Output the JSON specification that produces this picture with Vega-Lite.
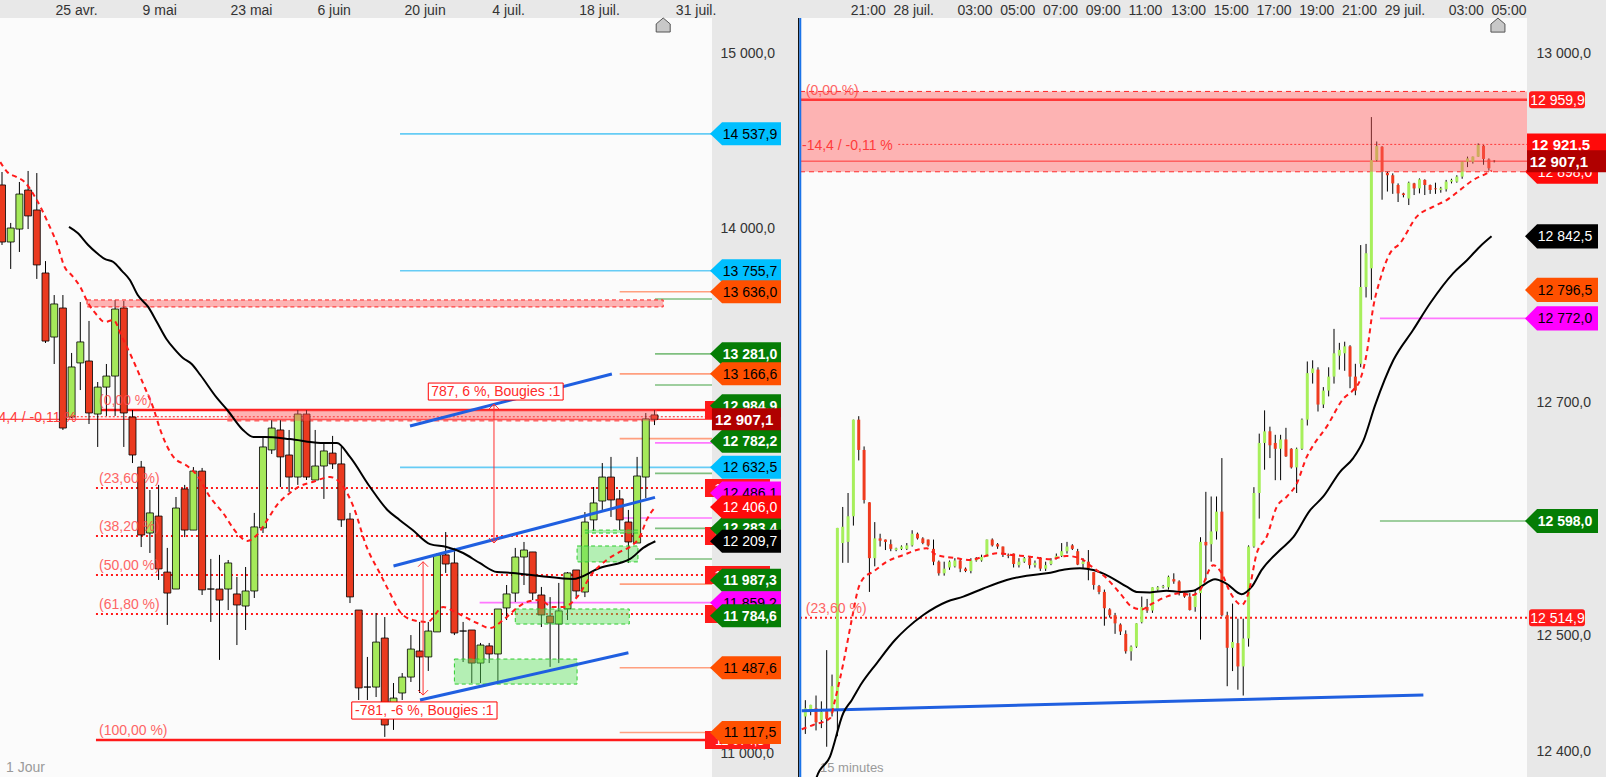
{
  "$schema": "https://vega.github.io/schema/vega-lite/v6.json",
  "background": "#e8e8e8",
  "padding": 0,
  "bounds": "flush",
  "spacing": 88,
  "config": {"view": {"fill": "#fbfbfb", "stroke": null}, "font": "Liberation Sans"},
  "datasets": {
    "dc": [
      {"i":0,"o":14246,"h":14320,"l":13903,"c":13920},{"i":1,"o":13920,"h":14029,"l":13766,"c":14000},
      {"i":2,"o":13994,"h":14263,"l":13863,"c":14194},{"i":3,"o":14217,"h":14326,"l":13994,"c":14069},
      {"i":4,"o":14103,"h":14314,"l":13709,"c":13789},{"i":5,"o":13743,"h":13811,"l":13343,"c":13354},
      {"i":6,"o":13377,"h":13617,"l":13223,"c":13566},{"i":7,"o":13543,"h":13617,"l":12846,"c":12857},
      {"i":8,"o":12920,"h":13286,"l":12914,"c":13206},{"i":9,"o":13229,"h":13577,"l":13074,"c":13349},
      {"i":10,"o":13240,"h":13469,"l":12880,"c":12943},{"i":11,"o":12937,"h":13120,"l":12749,"c":13091},
      {"i":12,"o":13091,"h":13223,"l":12926,"c":13154},{"i":13,"o":13154,"h":13589,"l":12926,"c":13537},
      {"i":14,"o":13543,"h":13583,"l":12749,"c":12943},{"i":15,"o":12920,"h":12960,"l":12657,"c":12703},
      {"i":16,"o":12634,"h":12669,"l":12177,"c":12246},{"i":17,"o":12257,"h":12503,"l":12143,"c":12372},
      {"i":18,"o":12354,"h":12532,"l":11989,"c":12052},{"i":19,"o":12034,"h":12172,"l":11732,"c":11914},
      {"i":20,"o":11937,"h":12463,"l":11937,"c":12400},{"i":21,"o":12509,"h":12532,"l":12234,"c":12274},
      {"i":22,"o":12274,"h":12634,"l":12274,"c":12611},{"i":23,"o":12611,"h":12629,"l":11903,"c":11932},
      {"i":24,"o":11937,"h":12109,"l":11749,"c":11937},{"i":25,"o":11937,"h":12132,"l":11532,"c":11874},
      {"i":26,"o":11937,"h":12103,"l":11817,"c":12086},{"i":27,"o":11909,"h":12006,"l":11617,"c":11846},
      {"i":28,"o":11840,"h":12063,"l":11703,"c":11926},{"i":29,"o":11926,"h":12372,"l":11886,"c":12292},
      {"i":30,"o":12286,"h":12806,"l":12257,"c":12749},{"i":31,"o":12732,"h":12903,"l":12709,"c":12857},
      {"i":32,"o":12846,"h":12903,"l":12520,"c":12692},{"i":33,"o":12703,"h":12846,"l":12492,"c":12577},
      {"i":34,"o":12577,"h":12960,"l":12532,"c":12937},{"i":35,"o":12937,"h":12960,"l":12560,"c":12577},
      {"i":36,"o":12560,"h":12846,"l":12560,"c":12640},{"i":37,"o":12640,"h":12777,"l":12452,"c":12726},
      {"i":38,"o":12714,"h":12812,"l":12623,"c":12652},{"i":39,"o":12652,"h":12749,"l":12292,"c":12332},
      {"i":40,"o":12337,"h":12372,"l":11857,"c":11892},{"i":41,"o":11817,"h":11817,"l":11303,"c":11372},
      {"i":42,"o":11377,"h":11549,"l":11303,"c":11377},{"i":43,"o":11377,"h":11800,"l":11320,"c":11634},
      {"i":44,"o":11657,"h":11777,"l":11092,"c":11160},{"i":45,"o":11229,"h":11400,"l":11132,"c":11314},
      {"i":46,"o":11343,"h":11457,"l":11303,"c":11434},{"i":47,"o":11434,"h":11674,"l":11406,"c":11594},
      {"i":48,"o":11583,"h":11749,"l":11343,"c":11549},{"i":49,"o":11549,"h":11749,"l":11469,"c":11697},
      {"i":50,"o":11692,"h":12143,"l":11692,"c":12132},{"i":51,"o":12132,"h":12263,"l":12029,"c":12080},
      {"i":52,"o":12086,"h":12172,"l":11674,"c":11686},{"i":53,"o":11697,"h":11749,"l":11520,"c":11697},
      {"i":54,"o":11703,"h":11703,"l":11400,"c":11514},{"i":55,"o":11514,"h":11629,"l":11400,"c":11617},
      {"i":56,"o":11612,"h":11629,"l":11514,"c":11566},{"i":57,"o":11566,"h":11823,"l":11400,"c":11823},
      {"i":58,"o":11829,"h":11960,"l":11760,"c":11909},{"i":59,"o":11914,"h":12172,"l":11863,"c":12120},
      {"i":60,"o":12120,"h":12206,"l":11960,"c":12160},{"i":61,"o":12149,"h":12149,"l":11874,"c":11914},
      {"i":62,"o":11903,"h":11949,"l":11720,"c":11789},{"i":63,"o":11783,"h":11891,"l":11492,"c":11743},
      {"i":64,"o":11737,"h":11972,"l":11514,"c":11812},{"i":65,"o":11823,"h":12034,"l":11760,"c":12029},
      {"i":66,"o":12046,"h":12046,"l":11886,"c":11926},{"i":67,"o":11920,"h":12377,"l":11891,"c":12320},
      {"i":68,"o":12332,"h":12520,"l":12269,"c":12429},{"i":69,"o":12440,"h":12657,"l":12389,"c":12577},
      {"i":70,"o":12577,"h":12692,"l":12349,"c":12446},{"i":71,"o":12452,"h":12503,"l":12274,"c":12332},
      {"i":72,"o":12320,"h":12389,"l":12086,"c":12206},{"i":73,"o":12200,"h":12692,"l":12200,"c":12583},
      {"i":74,"o":12577,"h":12943,"l":12457,"c":12909},{"i":75,"o":12932,"h":12960,"l":12874,"c":12907}
    ],
    "dsma": [
      {"i":7.7,"v":14006},{"i":8.7,"v":13971},{"i":9.9,"v":13903},{"i":10.9,"v":13857},{"i":11.8,"v":13823},
      {"i":12.8,"v":13806},{"i":13.8,"v":13754},{"i":14.7,"v":13703},{"i":15.6,"v":13617},{"i":16.8,"v":13549},
      {"i":17.8,"v":13463},{"i":18.9,"v":13366},{"i":19.8,"v":13309},{"i":20.8,"v":13257},{"i":21.8,"v":13223},
      {"i":22.8,"v":13160},{"i":24.7,"v":13029},{"i":25.9,"v":12960},{"i":27.7,"v":12846},{"i":28.9,"v":12806},
      {"i":30.2,"v":12806},{"i":33.1,"v":12794},{"i":36.6,"v":12772},{"i":38.5,"v":12772},{"i":40.0,"v":12692},
      {"i":42.3,"v":12520},{"i":44.3,"v":12389},{"i":45.7,"v":12332},{"i":47.2,"v":12274},{"i":49.2,"v":12194},
      {"i":51.1,"v":12177},{"i":53.0,"v":12143},{"i":54.9,"v":12086},{"i":56.9,"v":12034},{"i":58.7,"v":12029},
      {"i":61.8,"v":12012},{"i":65.6,"v":11994},{"i":68.7,"v":12057},{"i":72.2,"v":12109},{"i":73.7,"v":12172},
      {"i":75.1,"v":12210}
    ],
    "dema": [
      {"i":-0.2,"v":14377},{"i":0.6,"v":14320},{"i":1.7,"v":14291},{"i":2.6,"v":14263},{"i":3.8,"v":14177},
      {"i":4.6,"v":14103},{"i":5.5,"v":14006},{"i":6.3,"v":13914},{"i":7.2,"v":13777},{"i":8.0,"v":13731},
      {"i":9.0,"v":13663},{"i":9.9,"v":13571},{"i":10.9,"v":13503},{"i":11.8,"v":13463},{"i":12.8,"v":13474},
      {"i":13.8,"v":13377},{"i":14.9,"v":13263},{"i":15.9,"v":13149},{"i":16.4,"v":13090},{"i":17.4,"v":12971},
      {"i":18.2,"v":12846},{"i":19.7,"v":12692},{"i":21.3,"v":12640},{"i":22.4,"v":12589},{"i":23.9,"v":12463},
      {"i":25.4,"v":12372},{"i":27.0,"v":12257},{"i":28.2,"v":12212},{"i":29.3,"v":12246},{"i":30.5,"v":12332},
      {"i":31.6,"v":12417},{"i":33.1,"v":12486},{"i":34.3,"v":12526},{"i":35.7,"v":12549},{"i":37.7,"v":12577},
      {"i":38.9,"v":12543},{"i":40.4,"v":12407},{"i":41.9,"v":12179},{"i":43.4,"v":12030},{"i":44.6,"v":11913},
      {"i":45.7,"v":11810},{"i":47.2,"v":11760},{"i":48.9,"v":11749},{"i":50.7,"v":11834},{"i":52.3,"v":11800},
      {"i":54.6,"v":11743},{"i":56.1,"v":11714},{"i":57.6,"v":11760},{"i":59.2,"v":11829},{"i":60.3,"v":11863},
      {"i":61.8,"v":11874},{"i":63.3,"v":11834},{"i":64.5,"v":11834},{"i":66.1,"v":11891},{"i":67.9,"v":12029},
      {"i":69.5,"v":12103},{"i":71.0,"v":12149},{"i":72.5,"v":12189},{"i":73.3,"v":12234},{"i":74.1,"v":12332},
      {"i":75.1,"v":12406}
    ],
    "dlev": [
      {"kind":"cyan","v":14537.9,"x1":45.75,"x2":81.61},{"kind":"cyan","v":13755.7,"x1":45.75,"x2":81.61},
      {"kind":"cyan","v":12632.5,"x1":45.75,"x2":81.61},{"kind":"orange","v":13636.0,"x1":71.0,"x2":81.61},
      {"kind":"orange","v":13166.6,"x1":71.0,"x2":81.61},{"kind":"orange","v":12796.5,"x1":71.0,"x2":81.61},
      {"kind":"orange","v":11965,"x1":71.0,"x2":81.61},{"kind":"orange","v":11487.6,"x1":71.0,"x2":81.61},
      {"kind":"orange","v":11117.5,"x1":71.0,"x2":81.61},{"kind":"green","v":13594,"x1":75.06,"x2":81.61},
      {"kind":"green","v":13281.0,"x1":75.06,"x2":81.61},{"kind":"green","v":13103,"x1":75.06,"x2":81.61},
      {"kind":"green","v":12598.0,"x1":75.06,"x2":81.61},{"kind":"green","v":12283.4,"x1":75.06,"x2":81.61},
      {"kind":"green","v":12109,"x1":75.06,"x2":81.61},{"kind":"magenta","v":12772.0,"x1":75.06,"x2":81.61},
      {"kind":"magenta","v":12343,"x1":71.0,"x2":81.61},{"kind":"magenta","v":11859.2,"x1":54.9,"x2":81.61}
    ],
    "dfib": [
      {"v":12959.9,"x1":10.8,"x2":81.61,"s":"solid"},{"v":11074.3,"x1":10.8,"x2":81.61,"s":"solid"},
      {"v":12514.9,"x1":10.8,"x2":81.61,"s":"dot"},{"v":12239.6,"x1":10.8,"x2":81.61,"s":"dot"},
      {"v":12017.1,"x1":10.8,"x2":81.61,"s":"dot"},{"v":11794.6,"x1":10.8,"x2":81.61,"s":"dot"},
      {"v":12921.5,"x1":8.6,"x2":81.61,"s":"dotthin"},{"v":12907.1,"x1":-0.23,"x2":81.61,"s":"thin"},
      {"v":12898,"x1":25.9,"x2":75.3,"s":"dash"}
    ],
    "dfibt": [
      {"v":12959.9,"t":"(0,00 %)"},{"v":12514.9,"t":"(23,60 %)"},{"v":12239.6,"t":"(38,20 %)"},
      {"v":12017.1,"t":"(50,00 %)"},{"v":11794.6,"t":"(61,80 %)"},{"v":11074.3,"t":"(100,00 %)"}
    ],
    "dtags": [
      {"kind":"fib","v":12959.9,"t":"12 959,9"},{"kind":"fib","v":12514.9,"t":"12 514,9"},
      {"kind":"fib","v":12239.6,"t":"12 239,6"},{"kind":"fib","v":12017.1,"t":"12 017,1"},
      {"kind":"fib","v":11794.6,"t":"11 794,6"},{"kind":"fib","v":11074.3,"t":"11 074,3"},
      {"kind":"cyan","v":14537.9,"t":"14 537,9"},{"kind":"cyan","v":13755.7,"t":"13 755,7"},
      {"kind":"orange","v":13636.0,"t":"13 636,0"},{"kind":"green","v":13281.0,"t":"13 281,0"},
      {"kind":"orange","v":13166.6,"t":"13 166,6"},{"kind":"green","v":12984.9,"t":"12 984,9"},
      {"kind":"green","v":12782.2,"t":"12 782,2"},{"kind":"cyan","v":12632.5,"t":"12 632,5"},
      {"kind":"magenta","v":12486.1,"t":"12 486,1"},{"kind":"red","v":12406.0,"t":"12 406,0"},
      {"kind":"green","v":12283.4,"t":"12 283,4"},{"kind":"black","v":12209.7,"t":"12 209,7"},
      {"kind":"green","v":11987.3,"t":"11 987,3"},{"kind":"magenta","v":11859.2,"t":"11 859,2"},
      {"kind":"green","v":11784.6,"t":"11 784,6"},{"kind":"orange","v":11487.6,"t":"11 487,6"},
      {"kind":"orange","v":11117.5,"t":"11 117,5"},{"kind":"last","v":12907.1,"t":"12 907,1"}
    ],
    "mc": [
      {"k":1,"o":12430,"h":12444,"l":12415,"c":12437},{"k":2,"o":12434,"h":12440,"l":12431,"c":12440},
      {"k":3,"o":12437,"h":12448,"l":12418,"c":12425},{"k":4,"o":12427,"h":12443,"l":12420,"c":12434},
      {"k":5,"o":12435,"h":12487,"l":12404,"c":12428},{"k":6,"o":12433,"h":12466,"l":12430,"c":12456},
      {"k":7,"o":12435,"h":12592,"l":12413,"c":12592},{"k":8,"o":12579,"h":12610,"l":12562,"c":12593},
      {"k":9,"o":12580,"h":12622,"l":12562,"c":12602},{"k":10,"o":12602,"h":12685,"l":12594,"c":12685},
      {"k":11,"o":12685,"h":12688,"l":12650,"c":12659},{"k":12,"o":12659,"h":12662,"l":12613,"c":12616},
      {"k":13,"o":12614,"h":12614,"l":12537,"c":12566},{"k":14,"o":12566,"h":12597,"l":12559,"c":12583},
      {"k":15,"o":12583,"h":12587,"l":12576,"c":12581},{"k":16,"o":12582,"h":12582,"l":12573,"c":12580},
      {"k":17,"o":12578,"h":12582,"l":12572,"c":12574},{"k":18,"o":12573,"h":12575,"l":12572,"c":12574.5},
      {"k":19,"o":12574,"h":12577,"l":12573,"c":12576},{"k":20,"o":12574,"h":12579,"l":12573,"c":12577},
      {"k":21,"o":12577,"h":12590,"l":12576,"c":12587},{"k":22,"o":12587,"h":12588,"l":12582,"c":12583},
      {"k":23,"o":12583,"h":12584,"l":12578,"c":12579},{"k":24,"o":12582,"h":12582,"l":12576,"c":12577},
      {"k":25,"o":12574,"h":12582,"l":12560,"c":12563},{"k":26,"o":12563,"h":12564,"l":12551,"c":12553},
      {"k":27,"o":12553,"h":12563,"l":12551,"c":12557},{"k":28,"o":12558,"h":12564,"l":12556,"c":12563},
      {"k":29,"o":12559,"h":12566,"l":12558,"c":12564},{"k":30,"o":12564,"h":12566,"l":12554,"c":12557},
      {"k":31,"o":12557,"h":12558,"l":12554,"c":12555},{"k":32,"o":12555,"h":12566,"l":12553,"c":12564},
      {"k":33,"o":12564,"h":12567,"l":12563,"c":12566},{"k":34,"o":12564,"h":12569,"l":12563,"c":12567},
      {"k":35,"o":12567,"h":12582,"l":12567,"c":12582},{"k":36,"o":12582,"h":12583,"l":12576,"c":12577},
      {"k":37,"o":12578,"h":12579,"l":12574,"c":12576},{"k":38,"o":12576,"h":12576,"l":12567,"c":12569},
      {"k":39,"o":12569,"h":12570,"l":12566,"c":12568},{"k":40,"o":12570,"h":12570,"l":12558,"c":12561},
      {"k":41,"o":12560,"h":12566,"l":12558,"c":12563},{"k":42,"o":12563,"h":12567,"l":12562,"c":12566},
      {"k":43,"o":12566,"h":12567,"l":12557,"c":12560},{"k":44,"o":12560,"h":12564,"l":12558,"c":12562},
      {"k":45,"o":12566,"h":12567,"l":12555,"c":12557},{"k":46,"o":12557,"h":12563,"l":12555,"c":12560},
      {"k":47,"o":12561,"h":12566,"l":12560,"c":12564},{"k":48,"o":12566,"h":12570,"l":12565,"c":12568},
      {"k":49,"o":12568,"h":12579,"l":12567,"c":12572},{"k":50,"o":12572,"h":12580,"l":12570,"c":12576},
      {"k":51,"o":12577,"h":12578,"l":12573,"c":12574},{"k":52,"o":12572,"h":12574,"l":12560,"c":12560.5},
      {"k":53,"o":12561,"h":12566,"l":12557,"c":12563},{"k":54,"o":12563,"h":12573,"l":12547,"c":12557},
      {"k":55,"o":12554,"h":12554,"l":12539,"c":12543},{"k":56,"o":12542,"h":12543,"l":12535,"c":12537},
      {"k":57,"o":12537,"h":12539,"l":12508,"c":12523},{"k":58,"o":12522,"h":12523,"l":12515,"c":12517},
      {"k":59,"o":12517,"h":12519,"l":12501,"c":12510},{"k":60,"o":12509,"h":12510,"l":12500,"c":12503},
      {"k":61,"o":12501,"h":12504,"l":12484,"c":12486},{"k":62,"o":12486,"h":12491,"l":12478,"c":12490},
      {"k":63,"o":12490,"h":12510,"l":12489,"c":12510},{"k":64,"o":12511,"h":12533,"l":12510,"c":12524},
      {"k":65,"o":12524,"h":12531,"l":12519,"c":12521},{"k":66,"o":12521,"h":12541,"l":12519,"c":12541},
      {"k":67,"o":12539,"h":12542,"l":12538,"c":12541},{"k":68,"o":12541,"h":12543,"l":12540,"c":12542},
      {"k":69,"o":12541,"h":12551,"l":12539,"c":12550},{"k":70,"o":12548,"h":12553,"l":12544,"c":12546},
      {"k":71,"o":12546,"h":12547,"l":12534,"c":12536},{"k":72,"o":12536,"h":12537,"l":12532,"c":12533},
      {"k":73,"o":12533,"h":12536,"l":12521,"c":12521.5},{"k":74,"o":12524,"h":12539,"l":12520,"c":12534},
      {"k":75,"o":12536,"h":12584,"l":12496,"c":12580},{"k":76,"o":12580,"h":12623,"l":12547,"c":12577},
      {"k":77,"o":12578,"h":12619,"l":12563,"c":12589},{"k":78,"o":12589,"h":12619,"l":12582,"c":12606},
      {"k":79,"o":12606,"h":12652,"l":12516,"c":12517},{"k":80,"o":12517,"h":12520,"l":12456,"c":12489},
      {"k":81,"o":12489,"h":12527,"l":12469,"c":12494},{"k":82,"o":12493,"h":12514,"l":12453,"c":12473},
      {"k":83,"o":12473,"h":12514,"l":12448,"c":12497},{"k":84,"o":12497,"h":12577,"l":12490,"c":12576},
      {"k":85,"o":12576,"h":12627,"l":12575,"c":12622},{"k":86,"o":12622,"h":12673,"l":12600,"c":12665},
      {"k":87,"o":12665,"h":12693,"l":12642,"c":12675},{"k":88,"o":12675,"h":12679,"l":12652,"c":12663},
      {"k":89,"o":12665,"h":12672,"l":12633,"c":12660},{"k":90,"o":12660,"h":12672,"l":12633,"c":12668},
      {"k":91,"o":12668,"h":12678,"l":12653,"c":12653.5},{"k":92,"o":12660,"h":12660.5,"l":12643,"c":12644},
      {"k":93,"o":12644,"h":12661,"l":12622,"c":12660},{"k":94,"o":12660,"h":12686,"l":12659,"c":12685},
      {"k":95,"o":12685,"h":12735,"l":12680,"c":12725},{"k":96,"o":12725,"h":12736,"l":12716,"c":12729},
      {"k":97,"o":12728,"h":12730,"l":12692,"c":12698},{"k":98,"o":12698,"h":12713,"l":12695,"c":12710},
      {"k":99,"o":12710,"h":12730,"l":12705,"c":12722},{"k":100,"o":12722,"h":12763,"l":12716,"c":12742},
      {"k":101,"o":12740,"h":12751,"l":12728,"c":12745},{"k":102,"o":12742,"h":12752,"l":12727,"c":12748},
      {"k":103,"o":12748,"h":12749,"l":12712,"c":12722},{"k":104,"o":12722,"h":12733,"l":12706,"c":12710},
      {"k":105,"o":12733,"h":12835,"l":12730,"c":12799},{"k":106,"o":12799,"h":12836,"l":12790,"c":12828},
      {"k":107,"o":12815,"h":12945,"l":12788,"c":12908},{"k":108,"o":12908,"h":12924,"l":12907,"c":12920},
      {"k":109,"o":12919.5,"h":12920,"l":12874,"c":12898},{"k":110,"o":12897,"h":12898,"l":12881,"c":12895},
      {"k":111,"o":12895,"h":12896.6,"l":12879,"c":12888},{"k":112,"o":12886.6,"h":12888,"l":12872,"c":12879.4},
      {"k":113,"o":12879.4,"h":12880,"l":12876,"c":12878},{"k":114,"o":12875,"h":12889.5,"l":12869.4,"c":12888.6},
      {"k":115,"o":12888,"h":12888.5,"l":12878,"c":12883.7},{"k":116,"o":12883.7,"h":12892.3,"l":12879.4,"c":12891.5},
      {"k":117,"o":12891,"h":12891.5,"l":12878,"c":12886.6},{"k":118,"o":12886.6,"h":12887,"l":12879,"c":12882.3},
      {"k":119,"o":12883.7,"h":12888.6,"l":12879,"c":12883},{"k":120,"o":12882.3,"h":12885,"l":12880,"c":12883.7},
      {"k":121,"o":12883,"h":12891,"l":12881,"c":12889.5},{"k":122,"o":12889.5,"h":12892,"l":12888,"c":12891},
      {"k":123,"o":12889.5,"h":12895,"l":12888.6,"c":12893.8},{"k":124,"o":12893.8,"h":12906.6,"l":12892,"c":12906.6},
      {"k":125,"o":12906.6,"h":12911,"l":12902,"c":12909.5},{"k":126,"o":12906.6,"h":12911,"l":12905,"c":12911},
      {"k":127,"o":12911,"h":12922.4,"l":12911,"c":12921},{"k":128,"o":12920.4,"h":12921,"l":12904,"c":12909},
      {"k":129,"o":12908.6,"h":12909.5,"l":12899,"c":12901},{"k":130,"o":12907.5,"h":12908,"l":12906,"c":12907.1}
    ],
    "msma": [
      {"k":2.2,"v":12360},{"k":3.13,"v":12378},{"k":5.62,"v":12395.5},{"k":8.11,"v":12433},{"k":9.68,"v":12444},
      {"k":11.55,"v":12458.5},{"k":14.36,"v":12475.7},{"k":17.79,"v":12495.7},{"k":19.98,"v":12505.7},
      {"k":23.09,"v":12517.2},{"k":27.47,"v":12528.6},{"k":30.58,"v":12533},{"k":34.33,"v":12540},
      {"k":38.71,"v":12547.2},{"k":42.45,"v":12551},{"k":46.2,"v":12553},{"k":49.94,"v":12556.4},
      {"k":52.43,"v":12557.3},{"k":54.93,"v":12555.8},{"k":58.05,"v":12550},{"k":61.18,"v":12541.5},
      {"k":63.05,"v":12537},{"k":65.54,"v":12536.6},{"k":68.67,"v":12538},{"k":71.16,"v":12537},
      {"k":73.65,"v":12538},{"k":74.91,"v":12541},{"k":77.72,"v":12548},{"k":79.9,"v":12544},
      {"k":82.7,"v":12535},{"k":84.6,"v":12541.5},{"k":86.46,"v":12556},{"k":89.89,"v":12573},
      {"k":92.38,"v":12584},{"k":95.5,"v":12607},{"k":98,"v":12619},{"k":101.1,"v":12640},
      {"k":103.6,"v":12652},{"k":105.5,"v":12667},{"k":107.7,"v":12697.5},{"k":111.1,"v":12736},
      {"k":114.8,"v":12762},{"k":118,"v":12785},{"k":122.3,"v":12810.7},{"k":124.9,"v":12822},
      {"k":127.3,"v":12833.6},{"k":129.5,"v":12842.5}
    ],
    "mema": [
      {"k":0.32,"v":12419},{"k":2.49,"v":12422.7},{"k":5.62,"v":12428.4},{"k":6.55,"v":12444},{"k":8.11,"v":12475.7},
      {"k":9.68,"v":12513},{"k":10.92,"v":12540},{"k":11.85,"v":12548.7},{"k":13.73,"v":12554.4},{"k":16.24,"v":12563},
      {"k":19.34,"v":12568.7},{"k":21.85,"v":12573},{"k":23.73,"v":12574.5},{"k":25.6,"v":12568.7},{"k":29.34,"v":12566},
      {"k":31.84,"v":12564.4},{"k":34.33,"v":12567.3},{"k":36.84,"v":12570.2},{"k":39.94,"v":12568.7},{"k":43.07,"v":12567.3},
      {"k":46.82,"v":12565},{"k":49.94,"v":12567.9},{"k":52.43,"v":12566},{"k":54.63,"v":12558.7},{"k":57.12,"v":12550},
      {"k":59.93,"v":12535.8},{"k":62.12,"v":12524.3},{"k":63.99,"v":12522},{"k":65.54,"v":12525.8},{"k":68.67,"v":12533},
      {"k":71.16,"v":12535.8},{"k":73.65,"v":12534.4},{"k":74.91,"v":12538.7},{"k":77.4,"v":12560},{"k":78.97,"v":12553},
      {"k":80.52,"v":12537},{"k":82.72,"v":12525.8},{"k":83.95,"v":12535.8},{"k":85.52,"v":12570},{"k":87.4,"v":12584.5},
      {"k":89.27,"v":12610},{"k":91.14,"v":12618.8},{"k":93.01,"v":12630},{"k":94.89,"v":12653},{"k":96.12,"v":12663},
      {"k":98.63,"v":12679},{"k":101.74,"v":12703},{"k":103.61,"v":12710.5},{"k":104.87,"v":12719},{"k":106.12,"v":12742},
      {"k":107.36,"v":12782},{"k":108.61,"v":12805},{"k":110.49,"v":12828},{"k":112.36,"v":12836.5},{"k":115.49,"v":12859.4},
      {"k":118.6,"v":12868},{"k":121.1,"v":12873.7},{"k":123.6,"v":12882.3},{"k":126.09,"v":12891},{"k":128.6,"v":12896.6},
      {"k":129.53,"v":12899}
    ],
    "mfib": [
      {"v":12967,"x1":0,"x2":136.14,"s":"dash"},{"v":12898,"x1":0,"x2":136.14,"s":"dash"},
      {"v":12959.9,"x1":0,"x2":136.14,"s":"solid"},{"v":12921.5,"x1":18.4,"x2":136.14,"s":"dotthin"},
      {"v":12907.1,"x1":0,"x2":136.14,"s":"thin"},{"v":12514.9,"x1":0,"x2":136.14,"s":"dot"}
    ],
    "mtags": [
      {"kind":"fib","v":12959.9,"t":"12 959,9"},{"kind":"fib","v":12514.9,"t":"12 514,9"},
      {"kind":"redbar","v":12921.5,"t":"12 921,5"},{"kind":"red","v":12898.0,"t":"12 898,0"},
      {"kind":"black","v":12842.5,"t":"12 842,5"},{"kind":"orange","v":12796.5,"t":"12 796,5"},
      {"kind":"magenta","v":12772.0,"t":"12 772,0"},{"kind":"green","v":12598.0,"t":"12 598,0"},
      {"kind":"last","v":12907.1,"t":"12 907,1"}
    ]
  },
  "hconcat": [
    {
      "width": 712,
      "height": 759,
      "layer": [
        {
          "data": {"name": "dlev"},
          "mark": {"type": "rule", "strokeWidth": 1.6, "clip": true},
          "encoding": {
            "x": {"field": "x1", "type": "quantitative", "scale": {"domain": [-0.23, 81.61], "nice": false, "zero": false, "padding": 0},
              "axis": {"orient": "top", "values": [6.1, 16.1, 26.2, 36.2, 46.2, 56.3, 66.3, 77.4],
                "labelExpr": "['25 avr.','9 mai','23 mai','6 juin','20 juin','4 juil.','18 juil.','31 juil.'][indexof([6.1,16.1,26.2,36.2,46.2,56.3,66.3,77.4], datum.value)]",
                "labelAlign": "left", "labelPadding": 1, "labelFlush": false, "labelOverlap": false, "ticks": false, "domain": false, "grid": false,
                "title": null, "minExtent": 18, "maxExtent": 18, "labelFontSize": 14, "labelColor": "#333333"}},
            "x2": {"field": "x2"},
            "y": {"field": "v", "type": "quantitative", "scale": {"domain": [10863, 15200], "nice": false, "zero": false},
              "axis": {"orient": "right", "values": [11000, 14000, 15000],
                "labelExpr": "replace(replace(format(datum.value, ',.1f'), ',', ' '), '.', ',')",
                "labelAlign": "left", "labelPadding": 8, "labelBaseline": "middle", "labelFlush": false, "labelOverlap": false,
                "ticks": false, "domain": false, "grid": false, "title": null, "labelFontSize": 14, "labelColor": "#333333"}},
            "color": {"condition": [{"test": "datum.kind=='cyan'", "value": "#66ccf5"}, {"test": "datum.kind=='orange'", "value": "#ff9f7f"}, {"test": "datum.kind=='magenta'", "value": "#ff77ff"}], "value": "#7fbf7f"}
          }
        },
        {
          "data": {"name": "dfib"},
          "mark": {"type": "rule", "color": "#ff1a1a", "clip": true},
          "encoding": {
            "x": {"field": "x1", "type": "quantitative", "scale": {"domain": [-0.23, 81.61], "nice": false, "zero": false, "padding": 0}},
            "x2": {"field": "x2"},
            "y": {"field": "v", "type": "quantitative", "scale": {"domain": [10863, 15200], "nice": false, "zero": false}},
            "strokeWidth": {"condition": [{"test": "datum.s=='solid'", "value": 2.5}, {"test": "datum.s=='dot'", "value": 2}], "value": 1},
            "strokeDash": {"condition": [{"test": "datum.s=='dot'", "value": [2, 3]}, {"test": "datum.s=='dotthin'", "value": [2, 2]}, {"test": "datum.s=='dash'", "value": [5, 4]}], "value": [1, 0]}
          }
        },
        {
          "data": {"name": "dc"},
          "mark": {"type": "rule", "color": "#000000", "strokeWidth": 1, "clip": true},
          "encoding": {
            "x": {"field": "i", "type": "quantitative", "scale": {"domain": [-0.23, 81.61], "nice": false, "zero": false, "padding": 0}},
            "y": {"field": "l", "type": "quantitative", "scale": {"domain": [10863, 15200], "nice": false, "zero": false}},
            "y2": {"field": "h"}
          }
        },
        {
          "data": {"name": "dc"},
          "mark": {"type": "bar", "size": 7, "stroke": "#000000", "strokeWidth": 0.8, "clip": true},
          "encoding": {
            "x": {"field": "i", "type": "quantitative", "scale": {"domain": [-0.23, 81.61], "nice": false, "zero": false, "padding": 0}},
            "y": {"field": "o", "type": "quantitative", "scale": {"domain": [10863, 15200], "nice": false, "zero": false}},
            "y2": {"field": "c"},
            "color": {"condition": {"test": "datum.c >= datum.o", "value": "#a5e95a"}, "value": "#ea3a1f"}
          }
        },
        {
          "data": {"values": [
            {"x1": 52.0, "x2": 66.1, "v1": 11394, "v2": 11537}, {"x1": 59.0, "x2": 72.1, "v1": 11737, "v2": 11823},
            {"x1": 66.1, "x2": 73.1, "v1": 12092, "v2": 12183}, {"x1": 67.0, "x2": 73.1, "v1": 12257, "v2": 12274}]},
          "mark": {"type": "rect", "fill": "#5de05d", "fillOpacity": 0.45, "stroke": "#2ecc2e", "strokeWidth": 1, "strokeDash": [4, 3], "clip": true},
          "encoding": {
            "x": {"field": "x1", "type": "quantitative", "scale": {"domain": [-0.23, 81.61], "nice": false, "zero": false, "padding": 0}},
            "x2": {"field": "x2"},
            "y": {"field": "v1", "type": "quantitative", "scale": {"domain": [10863, 15200], "nice": false, "zero": false}},
            "y2": {"field": "v2"}
          }
        },
        {
          "data": {"values": [{"x1": 9.77, "x2": 76.0, "v1": 13549, "v2": 13589}]},
          "mark": {"type": "rect", "fill": "#ff5c5c", "fillOpacity": 0.45, "stroke": "#ff2020", "strokeWidth": 1, "strokeDash": [4, 3], "clip": true},
          "encoding": {
            "x": {"field": "x1", "type": "quantitative", "scale": {"domain": [-0.23, 81.61], "nice": false, "zero": false, "padding": 0}},
            "x2": {"field": "x2"},
            "y": {"field": "v1", "type": "quantitative", "scale": {"domain": [10863, 15200], "nice": false, "zero": false}},
            "y2": {"field": "v2"}
          }
        },
        {
          "data": {"values": [{"x1": 25.9, "x2": 75.3, "v1": 12898, "v2": 12962}]},
          "mark": {"type": "rect", "fill": "#ff5c5c", "fillOpacity": 0.45, "clip": true},
          "encoding": {
            "x": {"field": "x1", "type": "quantitative", "scale": {"domain": [-0.23, 81.61], "nice": false, "zero": false, "padding": 0}},
            "x2": {"field": "x2"},
            "y": {"field": "v1", "type": "quantitative", "scale": {"domain": [10863, 15200], "nice": false, "zero": false}},
            "y2": {"field": "v2"}
          }
        },
        {
          "data": {"values": [
            {"i1": 46.9, "v1": 12869, "i2": 70.1, "v2": 13166}, {"i1": 45.0, "v1": 12069, "i2": 75.06, "v2": 12461},
            {"i1": 48.05, "v1": 11303, "i2": 72.0, "v2": 11573}]},
          "mark": {"type": "rule", "color": "#1f5fe0", "strokeWidth": 3, "clip": true},
          "encoding": {
            "x": {"field": "i1", "type": "quantitative", "scale": {"domain": [-0.23, 81.61], "nice": false, "zero": false, "padding": 0}},
            "x2": {"field": "i2"},
            "y": {"field": "v1", "type": "quantitative", "scale": {"domain": [10863, 15200], "nice": false, "zero": false}},
            "y2": {"field": "v2"}
          }
        },
        {
          "data": {"name": "dsma"},
          "mark": {"type": "line", "color": "#000000", "strokeWidth": 2, "interpolate": "monotone", "clip": true},
          "encoding": {
            "x": {"field": "i", "type": "quantitative", "scale": {"domain": [-0.23, 81.61], "nice": false, "zero": false, "padding": 0}},
            "y": {"field": "v", "type": "quantitative", "scale": {"domain": [10863, 15200], "nice": false, "zero": false}}
          }
        },
        {
          "data": {"name": "dema"},
          "mark": {"type": "line", "color": "#ff1a1a", "strokeWidth": 2, "strokeDash": [5, 4], "interpolate": "monotone", "clip": true},
          "encoding": {
            "x": {"field": "i", "type": "quantitative", "scale": {"domain": [-0.23, 81.61], "nice": false, "zero": false, "padding": 0}},
            "y": {"field": "v", "type": "quantitative", "scale": {"domain": [10863, 15200], "nice": false, "zero": false}}
          }
        },
        {
          "data": {"values": [{"i": 56.55, "v1": 12200, "v2": 12994}, {"i": 48.4, "v1": 11331, "v2": 12093}]},
          "mark": {"type": "rule", "color": "#ff3030", "strokeWidth": 1},
          "encoding": {
            "x": {"field": "i", "type": "quantitative", "scale": {"domain": [-0.23, 81.61], "nice": false, "zero": false, "padding": 0}},
            "y": {"field": "v1", "type": "quantitative", "scale": {"domain": [10863, 15200], "nice": false, "zero": false}},
            "y2": {"field": "v2"}
          }
        },
        {
          "data": {"values": [{"i": 56.55, "v": 12994}, {"i": 48.4, "v": 12093}]},
          "mark": {"type": "point", "shape": "M-1,1L0,0L1,1", "size": 100, "filled": false, "color": "#ff3030", "strokeWidth": 1, "opacity": 1},
          "encoding": {
            "x": {"field": "i", "type": "quantitative", "scale": {"domain": [-0.23, 81.61], "nice": false, "zero": false, "padding": 0}},
            "y": {"field": "v", "type": "quantitative", "scale": {"domain": [10863, 15200], "nice": false, "zero": false}}
          }
        },
        {
          "data": {"values": [{"i": 56.55, "v": 12200}, {"i": 48.4, "v": 11331}]},
          "mark": {"type": "point", "shape": "M-1,-1L0,0L1,-1", "size": 100, "filled": false, "color": "#ff3030", "strokeWidth": 1, "opacity": 1},
          "encoding": {
            "x": {"field": "i", "type": "quantitative", "scale": {"domain": [-0.23, 81.61], "nice": false, "zero": false, "padding": 0}},
            "y": {"field": "v", "type": "quantitative", "scale": {"domain": [10863, 15200], "nice": false, "zero": false}}
          }
        },
        {
          "data": {"values": [{"x1": 49.0, "x2": 64.5, "v1": 13017, "v2": 13114}, {"x1": 40.2, "x2": 56.9, "v1": 11194, "v2": 11292}]},
          "mark": {"type": "rect", "fill": "#ffffff", "stroke": "#ff0000", "strokeWidth": 1},
          "encoding": {
            "x": {"field": "x1", "type": "quantitative", "scale": {"domain": [-0.23, 81.61], "nice": false, "zero": false, "padding": 0}},
            "x2": {"field": "x2"},
            "y": {"field": "v1", "type": "quantitative", "scale": {"domain": [10863, 15200], "nice": false, "zero": false}},
            "y2": {"field": "v2"}
          }
        },
        {
          "data": {"values": [{"i": 56.75, "v": 13066, "t": "787, 6 %, Bougies :1"}, {"i": 48.55, "v": 11243, "t": "-781, -6 %, Bougies :1"}]},
          "mark": {"type": "text", "fontSize": 14, "color": "#ff2a2a", "align": "center", "baseline": "middle", "dy": 1},
          "encoding": {
            "x": {"field": "i", "type": "quantitative", "scale": {"domain": [-0.23, 81.61], "nice": false, "zero": false, "padding": 0}},
            "y": {"field": "v", "type": "quantitative", "scale": {"domain": [10863, 15200], "nice": false, "zero": false}},
            "text": {"field": "t"}
          }
        },
        {
          "data": {"name": "dfibt"},
          "mark": {"type": "text", "fontSize": 14, "color": "#ff4a4a", "opacity": 0.85, "align": "left", "baseline": "bottom", "dy": -2, "clip": true},
          "encoding": {
            "x": {"datum": 11.15, "type": "quantitative", "scale": {"domain": [-0.23, 81.61], "nice": false, "zero": false, "padding": 0}},
            "y": {"field": "v", "type": "quantitative", "scale": {"domain": [10863, 15200], "nice": false, "zero": false}},
            "text": {"field": "t"}
          }
        },
        {
          "data": {"values": [{"i": -1.84, "v": 12914, "t": "-14,4 / -0,11 %"}, {"i": 0.46, "v": 10914, "t": "1 Jour"}]},
          "mark": {"type": "text", "fontSize": 14, "align": "left", "baseline": "middle", "clip": true},
          "encoding": {
            "x": {"field": "i", "type": "quantitative", "scale": {"domain": [-0.23, 81.61], "nice": false, "zero": false, "padding": 0}},
            "y": {"field": "v", "type": "quantitative", "scale": {"domain": [10863, 15200], "nice": false, "zero": false}},
            "text": {"field": "t"},
            "color": {"condition": {"test": "datum.t=='1 Jour'", "value": "#9a9a9a"}, "value": "#ff3b3b"}
          }
        },
        {
          "data": {"values": [{"i": 76.0, "v": 15160}]},
          "mark": {"type": "point", "shape": "M-1,1L-1,-0.15L0,-1L1,-0.15L1,1Z", "size": 196, "filled": true, "fill": "#c8c8c8", "stroke": "#555555", "strokeWidth": 1, "opacity": 1},
          "encoding": {
            "x": {"field": "i", "type": "quantitative", "scale": {"domain": [-0.23, 81.61], "nice": false, "zero": false, "padding": 0}},
            "y": {"field": "v", "type": "quantitative", "scale": {"domain": [10863, 15200], "nice": false, "zero": false}}
          }
        },
        {
          "data": {"name": "dtags"},
          "transform": [{"filter": "datum.kind=='fib'"}],
          "mark": {"type": "point", "shape": "M-1,-0.277L1,-0.277L1,0.277L-1,0.277Z", "size": 4225, "filled": true, "color": "#ff1a1a", "strokeWidth": 0, "opacity": 1},
          "encoding": {
            "x": {"datum": 84.54, "type": "quantitative", "scale": {"domain": [-0.23, 81.61], "nice": false, "zero": false, "padding": 0}},
            "y": {"field": "v", "type": "quantitative", "scale": {"domain": [10863, 15200], "nice": false, "zero": false}}
          }
        },
        {
          "data": {"name": "dtags"},
          "transform": [{"filter": "datum.kind=='fib'"}],
          "mark": {"type": "text", "fontSize": 13, "color": "#ffffff", "align": "center", "baseline": "middle", "dy": 1},
          "encoding": {
            "x": {"datum": 84.8, "type": "quantitative", "scale": {"domain": [-0.23, 81.61], "nice": false, "zero": false, "padding": 0}},
            "y": {"field": "v", "type": "quantitative", "scale": {"domain": [10863, 15200], "nice": false, "zero": false}},
            "text": {"field": "t"}
          }
        },
        {
          "data": {"name": "dtags"},
          "transform": [{"filter": "datum.kind!='fib' && datum.kind!='last' && indexof([12406, 12209.7, 11784.6], datum.v) < 0"}],
          "mark": {"type": "point", "shape": "M-1,0L-0.66,-0.324L1,-0.324L1,0.324L-0.66,0.324Z", "size": 5041, "filled": true, "strokeWidth": 0, "opacity": 1},
          "encoding": {
            "x": {"datum": 85.46, "type": "quantitative", "scale": {"domain": [-0.23, 81.61], "nice": false, "zero": false, "padding": 0}},
            "y": {"field": "v", "type": "quantitative", "scale": {"domain": [10863, 15200], "nice": false, "zero": false}},
            "color": {"condition": [{"test": "datum.kind=='cyan'", "value": "#00bfff"}, {"test": "datum.kind=='orange'", "value": "#ff5000"}, {"test": "datum.kind=='green'", "value": "#057d05"}, {"test": "datum.kind=='magenta'", "value": "#ff00ff"}, {"test": "datum.kind=='black'", "value": "#000000"}], "value": "#ff0a0a"}
          }
        },
        {
          "data": {"name": "dtags"},
          "transform": [{"filter": "datum.kind!='fib' && datum.kind!='last' && datum.kind!='green' && indexof([12406, 12209.7, 11784.6], datum.v) < 0"}],
          "mark": {"type": "text", "fontSize": 14, "align": "center", "baseline": "middle", "dy": 1},
          "encoding": {
            "x": {"datum": 85.98, "type": "quantitative", "scale": {"domain": [-0.23, 81.61], "nice": false, "zero": false, "padding": 0}},
            "y": {"field": "v", "type": "quantitative", "scale": {"domain": [10863, 15200], "nice": false, "zero": false}},
            "text": {"field": "t"},
            "color": {"condition": {"test": "indexof(['cyan','orange','magenta'], datum.kind) >= 0", "value": "#000000"}, "value": "#ffffff"}
          }
        },
        {
          "data": {"name": "dtags"},
          "transform": [{"filter": "datum.kind=='green' && indexof([12406, 12209.7, 11784.6], datum.v) < 0"}],
          "mark": {"type": "text", "fontSize": 14, "fontWeight": "bold", "color": "#ffffff", "align": "center", "baseline": "middle", "dy": 1},
          "encoding": {
            "x": {"datum": 85.98, "type": "quantitative", "scale": {"domain": [-0.23, 81.61], "nice": false, "zero": false, "padding": 0}},
            "y": {"field": "v", "type": "quantitative", "scale": {"domain": [10863, 15200], "nice": false, "zero": false}},
            "text": {"field": "t"}
          }
        },
        {
          "data": {"name": "dtags"},
          "transform": [{"filter": "indexof([12406, 12209.7, 11784.6], datum.v) >= 0"}],
          "mark": {"type": "point", "shape": "M-1,0L-0.66,-0.324L1,-0.324L1,0.324L-0.66,0.324Z", "size": 5041, "filled": true, "strokeWidth": 0, "opacity": 1},
          "encoding": {
            "x": {"datum": 85.46, "type": "quantitative", "scale": {"domain": [-0.23, 81.61], "nice": false, "zero": false, "padding": 0}},
            "y": {"field": "v", "type": "quantitative", "scale": {"domain": [10863, 15200], "nice": false, "zero": false}},
            "color": {"condition": [{"test": "datum.kind=='green'", "value": "#057d05"}, {"test": "datum.kind=='black'", "value": "#000000"}], "value": "#ff0a0a"}
          }
        },
        {
          "data": {"name": "dtags"},
          "transform": [{"filter": "indexof([12406, 12209.7], datum.v) >= 0"}],
          "mark": {"type": "text", "fontSize": 14, "color": "#ffffff", "align": "center", "baseline": "middle", "dy": 1},
          "encoding": {
            "x": {"datum": 85.98, "type": "quantitative", "scale": {"domain": [-0.23, 81.61], "nice": false, "zero": false, "padding": 0}},
            "y": {"field": "v", "type": "quantitative", "scale": {"domain": [10863, 15200], "nice": false, "zero": false}},
            "text": {"field": "t"}
          }
        },
        {
          "data": {"name": "dtags"},
          "transform": [{"filter": "datum.v == 11784.6"}],
          "mark": {"type": "text", "fontSize": 14, "fontWeight": "bold", "color": "#ffffff", "align": "center", "baseline": "middle", "dy": 1},
          "encoding": {
            "x": {"datum": 85.98, "type": "quantitative", "scale": {"domain": [-0.23, 81.61], "nice": false, "zero": false, "padding": 0}},
            "y": {"field": "v", "type": "quantitative", "scale": {"domain": [10863, 15200], "nice": false, "zero": false}},
            "text": {"field": "t"}
          }
        },
        {
          "data": {"name": "dtags"},
          "transform": [{"filter": "datum.kind=='last'"}],
          "mark": {"type": "point", "shape": "M-1,-0.319L1,-0.319L1,0.319L-1,0.319Z", "size": 4761, "filled": true, "color": "#b00000", "strokeWidth": 0, "opacity": 1},
          "encoding": {
            "x": {"datum": 85.57, "type": "quantitative", "scale": {"domain": [-0.23, 81.61], "nice": false, "zero": false, "padding": 0}},
            "y": {"field": "v", "type": "quantitative", "scale": {"domain": [10863, 15200], "nice": false, "zero": false}}
          }
        },
        {
          "data": {"name": "dtags"},
          "transform": [{"filter": "datum.kind=='last'"}],
          "mark": {"type": "text", "fontSize": 15, "fontWeight": "bold", "color": "#ffffff", "align": "center", "baseline": "middle", "dy": 1},
          "encoding": {
            "x": {"datum": 85.3, "type": "quantitative", "scale": {"domain": [-0.23, 81.61], "nice": false, "zero": false, "padding": 0}},
            "y": {"field": "v", "type": "quantitative", "scale": {"domain": [10863, 15200], "nice": false, "zero": false}},
            "text": {"field": "t"}
          }
        }
      ]
    },
    {
      "width": 727,
      "height": 759,
      "layer": [
        {
          "data": {"values": [{"kind": "magenta", "v": 12772, "x1": 108.6, "x2": 136.14}, {"kind": "green", "v": 12598, "x1": 108.6, "x2": 136.14}]},
          "mark": {"type": "rule", "strokeWidth": 1.6, "clip": true},
          "encoding": {
            "x": {"field": "x1", "type": "quantitative", "scale": {"domain": [0, 136.14], "nice": false, "zero": false, "padding": 0},
              "axis": {"orient": "top", "values": [9.4, 17.4, 29.4, 37.4, 45.4, 53.4, 61.4, 69.4, 77.4, 85.4, 93.4, 101.4, 109.4, 121.4, 129.4],
                "labelExpr": "['21:00','28 juil.','03:00','05:00','07:00','09:00','11:00','13:00','15:00','17:00','19:00','21:00','29 juil.','03:00','05:00'][indexof([9.4,17.4,29.4,37.4,45.4,53.4,61.4,69.4,77.4,85.4,93.4,101.4,109.4,121.4,129.4], datum.value)]",
                "labelAlign": "left", "labelPadding": 1, "labelFlush": false, "labelOverlap": false, "ticks": false, "domain": false, "grid": false,
                "title": null, "minExtent": 18, "maxExtent": 18, "labelFontSize": 14, "labelColor": "#333333"}},
            "x2": {"field": "x2"},
            "y": {"field": "v", "type": "quantitative", "scale": {"domain": [12378, 13030.1], "nice": false, "zero": false},
              "axis": {"orient": "right", "values": [12400, 12500, 12700, 13000],
                "labelExpr": "replace(replace(format(datum.value, ',.1f'), ',', ' '), '.', ',')",
                "labelAlign": "left", "labelPadding": 9, "labelBaseline": "middle", "labelFlush": false, "labelOverlap": false,
                "ticks": false, "domain": false, "grid": false, "title": null, "labelFontSize": 14, "labelColor": "#333333"}},
            "color": {"condition": {"test": "datum.kind=='magenta'", "value": "#ff77ff"}, "value": "#7fbf7f"}
          }
        },
        {
          "data": {"name": "mfib"},
          "mark": {"type": "rule", "color": "#ff1a1a", "clip": true},
          "encoding": {
            "x": {"field": "x1", "type": "quantitative", "scale": {"domain": [0, 136.14], "nice": false, "zero": false, "padding": 0}},
            "x2": {"field": "x2"},
            "y": {"field": "v", "type": "quantitative", "scale": {"domain": [12378, 13030.1], "nice": false, "zero": false}},
            "strokeWidth": {"condition": [{"test": "datum.s=='solid'", "value": 2.5}, {"test": "datum.s=='dot'", "value": 2}], "value": 1},
            "strokeDash": {"condition": [{"test": "datum.s=='dot'", "value": [2, 3]}, {"test": "datum.s=='dotthin'", "value": [2, 2]}, {"test": "datum.s=='dash'", "value": [5, 4]}], "value": [1, 0]}
          }
        },
        {
          "data": {"values": [{"k": 3.75, "v": 12385.7, "t": "15 minutes"}]},
          "mark": {"type": "text", "fontSize": 13, "color": "#9a9a9a", "align": "left", "baseline": "middle"},
          "encoding": {
            "x": {"field": "k", "type": "quantitative", "scale": {"domain": [0, 136.14], "nice": false, "zero": false, "padding": 0}},
            "y": {"field": "v", "type": "quantitative", "scale": {"domain": [12378, 13030.1], "nice": false, "zero": false}},
            "text": {"field": "t"}
          }
        },
        {
          "data": {"name": "mc"},
          "mark": {"type": "rule", "color": "#000000", "strokeWidth": 1, "clip": true},
          "encoding": {
            "x": {"field": "k", "type": "quantitative", "scale": {"domain": [0, 136.14], "nice": false, "zero": false, "padding": 0}},
            "y": {"field": "l", "type": "quantitative", "scale": {"domain": [12378, 13030.1], "nice": false, "zero": false}},
            "y2": {"field": "h"}
          }
        },
        {
          "data": {"name": "mc"},
          "mark": {"type": "bar", "size": 3, "clip": true},
          "encoding": {
            "x": {"field": "k", "type": "quantitative", "scale": {"domain": [0, 136.14], "nice": false, "zero": false, "padding": 0}},
            "y": {"field": "o", "type": "quantitative", "scale": {"domain": [12378, 13030.1], "nice": false, "zero": false}},
            "y2": {"field": "c"},
            "color": {"condition": {"test": "datum.c >= datum.o", "value": "#a7ef5c"}, "value": "#ef3b1f"}
          }
        },
        {
          "data": {"values": [{"x1": 0, "x2": 136.14, "v1": 12898, "v2": 12967}]},
          "mark": {"type": "rect", "fill": "#ff5c5c", "fillOpacity": 0.45, "clip": true},
          "encoding": {
            "x": {"field": "x1", "type": "quantitative", "scale": {"domain": [0, 136.14], "nice": false, "zero": false, "padding": 0}},
            "x2": {"field": "x2"},
            "y": {"field": "v1", "type": "quantitative", "scale": {"domain": [12378, 13030.1], "nice": false, "zero": false}},
            "y2": {"field": "v2"}
          }
        },
        {
          "data": {"values": [{"i1": 0.32, "v1": 12435, "i2": 116.73, "v2": 12448.5}]},
          "mark": {"type": "rule", "color": "#1f5fe0", "strokeWidth": 3, "clip": true},
          "encoding": {
            "x": {"field": "i1", "type": "quantitative", "scale": {"domain": [0, 136.14], "nice": false, "zero": false, "padding": 0}},
            "x2": {"field": "i2"},
            "y": {"field": "v1", "type": "quantitative", "scale": {"domain": [12378, 13030.1], "nice": false, "zero": false}},
            "y2": {"field": "v2"}
          }
        },
        {
          "data": {"name": "msma"},
          "mark": {"type": "line", "color": "#000000", "strokeWidth": 2, "interpolate": "monotone", "clip": true},
          "encoding": {
            "x": {"field": "k", "type": "quantitative", "scale": {"domain": [0, 136.14], "nice": false, "zero": false, "padding": 0}},
            "y": {"field": "v", "type": "quantitative", "scale": {"domain": [12378, 13030.1], "nice": false, "zero": false}}
          }
        },
        {
          "data": {"name": "mema"},
          "mark": {"type": "line", "color": "#ff1a1a", "strokeWidth": 2, "strokeDash": [5, 4], "interpolate": "monotone", "clip": true},
          "encoding": {
            "x": {"field": "k", "type": "quantitative", "scale": {"domain": [0, 136.14], "nice": false, "zero": false, "padding": 0}},
            "y": {"field": "v", "type": "quantitative", "scale": {"domain": [12378, 13030.1], "nice": false, "zero": false}}
          }
        },
        {
          "data": {"values": [{"v": 12959.9, "t": "(0,00 %)"}, {"v": 12514.9, "t": "(23,60 %)"}]},
          "mark": {"type": "text", "fontSize": 14, "color": "#ff4a4a", "opacity": 0.85, "align": "left", "baseline": "bottom", "dy": -2},
          "encoding": {
            "x": {"datum": 1.1, "type": "quantitative", "scale": {"domain": [0, 136.14], "nice": false, "zero": false, "padding": 0}},
            "y": {"field": "v", "type": "quantitative", "scale": {"domain": [12378, 13030.1], "nice": false, "zero": false}},
            "text": {"field": "t"}
          }
        },
        {
          "data": {"values": [{"k": 0.37, "v": 12920, "t": "-14,4 / -0,11 %"}]},
          "mark": {"type": "text", "fontSize": 14, "color": "#ff3b3b", "align": "left", "baseline": "middle"},
          "encoding": {
            "x": {"field": "k", "type": "quantitative", "scale": {"domain": [0, 136.14], "nice": false, "zero": false, "padding": 0}},
            "y": {"field": "v", "type": "quantitative", "scale": {"domain": [12378, 13030.1], "nice": false, "zero": false}},
            "text": {"field": "t"}
          }
        },
        {
          "data": {"values": [{"k": 130.7, "v": 13024}]},
          "mark": {"type": "point", "shape": "M-1,1L-1,-0.15L0,-1L1,-0.15L1,1Z", "size": 196, "filled": true, "fill": "#c8c8c8", "stroke": "#555555", "strokeWidth": 1, "opacity": 1},
          "encoding": {
            "x": {"field": "k", "type": "quantitative", "scale": {"domain": [0, 136.14], "nice": false, "zero": false, "padding": 0}},
            "y": {"field": "v", "type": "quantitative", "scale": {"domain": [12378, 13030.1], "nice": false, "zero": false}}
          }
        },
        {
          "data": {"values": [{"k": -0.26}]},
          "mark": {"type": "rule", "color": "#111111", "strokeWidth": 1.2},
          "encoding": {
            "x": {"field": "k", "type": "quantitative", "scale": {"domain": [0, 136.14], "nice": false, "zero": false, "padding": 0}}
          }
        },
        {
          "data": {"values": [{"k": 0.05}]},
          "mark": {"type": "rule", "color": "#1a73e8", "strokeWidth": 2},
          "encoding": {
            "x": {"field": "k", "type": "quantitative", "scale": {"domain": [0, 136.14], "nice": false, "zero": false, "padding": 0}}
          }
        },
        {
          "data": {"name": "mtags"},
          "transform": [{"filter": "datum.kind=='fib'"}],
          "mark": {"type": "point", "shape": "M-0.9,-0.304L0.9,-0.304Q1,-0.304 1,-0.2L1,0.2Q1,0.304 0.9,0.304L-0.9,0.304Q-1,0.304 -1,0.2L-1,-0.2Q-1,-0.304 -0.9,-0.304Z", "size": 3136, "filled": true, "color": "#ff1a1a", "strokeWidth": 0, "opacity": 1},
          "encoding": {
            "x": {"datum": 141.76, "type": "quantitative", "scale": {"domain": [0, 136.14], "nice": false, "zero": false, "padding": 0}},
            "y": {"field": "v", "type": "quantitative", "scale": {"domain": [12378, 13030.1], "nice": false, "zero": false}}
          }
        },
        {
          "data": {"name": "mtags"},
          "transform": [{"filter": "datum.kind=='fib'"}],
          "mark": {"type": "text", "fontSize": 14, "color": "#ffffff", "align": "center", "baseline": "middle", "dy": 1},
          "encoding": {
            "x": {"datum": 141.85, "type": "quantitative", "scale": {"domain": [0, 136.14], "nice": false, "zero": false, "padding": 0}},
            "y": {"field": "v", "type": "quantitative", "scale": {"domain": [12378, 13030.1], "nice": false, "zero": false}},
            "text": {"field": "t"}
          }
        },
        {
          "data": {"name": "mtags"},
          "transform": [{"filter": "datum.kind=='redbar'"}],
          "mark": {"type": "point", "shape": "M-1,-0.278L1,-0.278L1,0.278L-1,0.278Z", "size": 6241, "filled": true, "color": "#ff0a0a", "strokeWidth": 0, "opacity": 1},
          "encoding": {
            "x": {"datum": 143.54, "type": "quantitative", "scale": {"domain": [0, 136.14], "nice": false, "zero": false, "padding": 0}},
            "y": {"field": "v", "type": "quantitative", "scale": {"domain": [12378, 13030.1], "nice": false, "zero": false}}
          }
        },
        {
          "data": {"name": "mtags"},
          "transform": [{"filter": "datum.kind=='redbar'"}],
          "mark": {"type": "text", "fontSize": 15, "fontWeight": "bold", "color": "#ffffff", "align": "center", "baseline": "middle", "dy": 1},
          "encoding": {
            "x": {"datum": 142.5, "type": "quantitative", "scale": {"domain": [0, 136.14], "nice": false, "zero": false, "padding": 0}},
            "y": {"field": "v", "type": "quantitative", "scale": {"domain": [12378, 13030.1], "nice": false, "zero": false}},
            "text": {"field": "t"}
          }
        },
        {
          "data": {"name": "mtags"},
          "transform": [{"filter": "datum.kind!='fib' && datum.kind!='redbar' && datum.kind!='last'"}],
          "mark": {"type": "point", "shape": "M-1,0L-0.67,-0.33L1,-0.33L1,0.33L-0.67,0.33Z", "size": 5329, "filled": true, "strokeWidth": 0, "opacity": 1},
          "encoding": {
            "x": {"datum": 142.6, "type": "quantitative", "scale": {"domain": [0, 136.14], "nice": false, "zero": false, "padding": 0}},
            "y": {"field": "v", "type": "quantitative", "scale": {"domain": [12378, 13030.1], "nice": false, "zero": false}},
            "color": {"condition": [{"test": "datum.kind=='orange'", "value": "#ff5000"}, {"test": "datum.kind=='green'", "value": "#057d05"}, {"test": "datum.kind=='magenta'", "value": "#ff00ff"}, {"test": "datum.kind=='black'", "value": "#000000"}], "value": "#ff0a0a"}
          }
        },
        {
          "data": {"name": "mtags"},
          "transform": [{"filter": "datum.kind!='fib' && datum.kind!='redbar' && datum.kind!='last' && datum.kind!='green'"}],
          "mark": {"type": "text", "fontSize": 14, "align": "center", "baseline": "middle", "dy": 1},
          "encoding": {
            "x": {"datum": 143.26, "type": "quantitative", "scale": {"domain": [0, 136.14], "nice": false, "zero": false, "padding": 0}},
            "y": {"field": "v", "type": "quantitative", "scale": {"domain": [12378, 13030.1], "nice": false, "zero": false}},
            "text": {"field": "t"},
            "color": {"condition": {"test": "indexof(['orange','magenta'], datum.kind) >= 0", "value": "#000000"}, "value": "#ffffff"}
          }
        },
        {
          "data": {"name": "mtags"},
          "transform": [{"filter": "datum.kind=='green'"}],
          "mark": {"type": "text", "fontSize": 14, "fontWeight": "bold", "color": "#ffffff", "align": "center", "baseline": "middle", "dy": 1},
          "encoding": {
            "x": {"datum": 143.26, "type": "quantitative", "scale": {"domain": [0, 136.14], "nice": false, "zero": false, "padding": 0}},
            "y": {"field": "v", "type": "quantitative", "scale": {"domain": [12378, 13030.1], "nice": false, "zero": false}},
            "text": {"field": "t"}
          }
        },
        {
          "data": {"name": "mtags"},
          "transform": [{"filter": "datum.kind=='last'"}],
          "mark": {"type": "point", "shape": "M-1,-0.278L1,-0.278L1,0.278L-1,0.278Z", "size": 6241, "filled": true, "color": "#b00000", "strokeWidth": 0, "opacity": 1},
          "encoding": {
            "x": {"datum": 143.54, "type": "quantitative", "scale": {"domain": [0, 136.14], "nice": false, "zero": false, "padding": 0}},
            "y": {"field": "v", "type": "quantitative", "scale": {"domain": [12378, 13030.1], "nice": false, "zero": false}}
          }
        },
        {
          "data": {"name": "mtags"},
          "transform": [{"filter": "datum.kind=='last'"}],
          "mark": {"type": "text", "fontSize": 15, "fontWeight": "bold", "color": "#ffffff", "align": "center", "baseline": "middle", "dy": 1},
          "encoding": {
            "x": {"datum": 142.1, "type": "quantitative", "scale": {"domain": [0, 136.14], "nice": false, "zero": false, "padding": 0}},
            "y": {"field": "v", "type": "quantitative", "scale": {"domain": [12378, 13030.1], "nice": false, "zero": false}},
            "text": {"field": "t"}
          }
        }
      ]
    }
  ]
}
